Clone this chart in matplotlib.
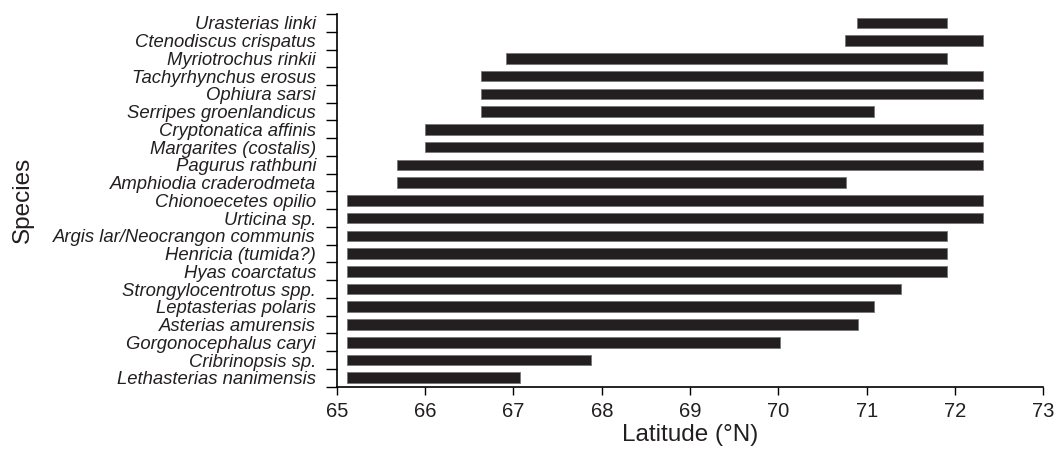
import matplotlib.pyplot as plt
import numpy as np

plt.rcParams['font.family'] = ['Liberation Sans', 'DejaVu Sans']

species = ["Urasterias linki", "Ctenodiscus crispatus", "Myriotrochus rinkii",
           "Tachyrhynchus erosus", "Ophiura sarsi", "Serripes groenlandicus",
           "Cryptonatica affinis", "Margarites (costalis)", "Pagurus rathbuni",
           "Amphiodia craderodmeta", "Chionoecetes opilio", "Urticina sp.",
           "Argis lar/Neocrangon communis", "Henricia (tumida?)", "Hyas coarctatus",
           "Strongylocentrotus spp.", "Leptasterias polaris", "Asterias amurensis",
           "Gorgonocephalus caryi", "Cribrinopsis sp.", "Lethasterias nanimensis"]

lat_min = [70.89, 70.75, 66.92, 66.63, 66.63, 66.63, 66.0, 66.0, 65.68, 65.68,
           65.12, 65.12, 65.12, 65.12, 65.12, 65.12, 65.12, 65.12, 65.12, 65.12, 65.12]
lat_max = [71.91, 72.32, 71.91, 72.32, 72.32, 71.08, 72.32, 72.32, 72.32, 70.76,
           72.32, 72.32, 71.91, 71.91, 71.91, 71.39, 71.08, 70.90, 70.02, 67.88, 67.07]

fig = plt.figure(figsize=(10.56, 4.49), dpi=100)
ax = fig.add_axes([0.319, 0.1388, 0.669, 0.83])

n = len(species)
ypos = np.arange(n)[::-1]
lo = np.array(lat_min)
hi = np.array(lat_max)
ax.barh(ypos, hi - lo, left=lo, height=0.6, color='#231f20',
        edgecolor='#777777', linewidth=0.6)

ax.set_xlim(65, 73)
ax.set_ylim(-0.5, n - 0.5)
ax.set_xticks(range(65, 74))
ax.set_yticks(ypos)
ax.set_yticklabels(species, fontstyle='italic', fontsize=13.3, color='#231f20')
ax.set_yticks(np.arange(n + 1) - 0.5, minor=True)
ax.tick_params(axis='y', which='major', length=0, pad=15)
ax.tick_params(axis='y', which='minor', length=8, width=1.0, direction='out')
ax.tick_params(axis='x', length=6, width=1.0, labelsize=14.5, pad=5,
               labelcolor='#231f20')

for s in ['top', 'right']:
    ax.spines[s].set_visible(False)
for s in ['left', 'bottom']:
    ax.spines[s].set_linewidth(1.2)

ax.set_xlabel("Latitude (°N)", fontsize=17.5, color='#231f20', labelpad=2)
ax.set_ylabel("Species", fontsize=17.5, color='#231f20', labelpad=14)

fig.savefig("out.png", dpi=100)
